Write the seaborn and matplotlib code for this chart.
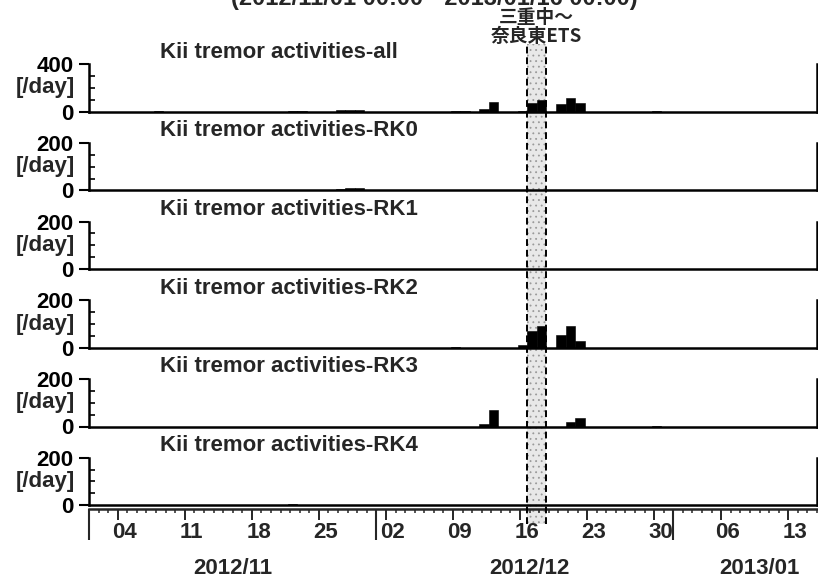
import numpy as np
import pandas as pd
import matplotlib
matplotlib.use("Agg")
import matplotlib.pyplot as plt
import matplotlib.dates as mdates
import matplotlib.transforms as mtransforms
from matplotlib.patches import Rectangle
from matplotlib.ticker import FixedLocator, NullFormatter
from matplotlib import font_manager as fm
import seaborn as sns

# ---------------------------------------------------------------- data
PERIOD = ("2012-11-01", "2013-01-16")
HEADER = "(2012/11/01 00:00 - 2013/01/16 00:00)"

ACTIVE_DAYS = ["2012-11-08", "2012-11-22", "2012-11-23", "2012-11-27",
               "2012-11-28", "2012-11-29", "2012-12-09", "2012-12-10",
               "2012-12-12", "2012-12-13", "2012-12-16", "2012-12-17",
               "2012-12-18", "2012-12-20", "2012-12-21", "2012-12-22",
               "2012-12-30"]
COUNT_ALL = [3, 8, 4, 12, 15, 14, 4, 5, 20, 82, 10, 73, 96, 67, 118, 76, 6]
COUNT_RK0 = [0, 2, 3, 8, 12, 12, 0, 3, 0, 0, 0, 0, 0, 0, 0, 0, 0]
COUNT_RK1 = [2, 0, 0, 0, 0, 0, 0, 0, 0, 0, 0, 0, 0, 0, 0, 0, 0]
COUNT_RK2 = [0, 0, 0, 0, 0, 0, 2, 0, 0, 0, 10, 69, 90, 55, 90, 27, 0]
COUNT_RK3 = [0, 0, 0, 0, 0, 0, 0, 0, 10, 70, 0, 0, 0, 0, 18, 34, 3]
COUNT_RK4 = [0, 3, 0, 0, 0, 0, 0, 0, 0, 0, 0, 0, 0, 0, 0, 0, 0]

PANEL_TITLES = ["Kii tremor activities-all", "Kii tremor activities-RK0",
                "Kii tremor activities-RK1", "Kii tremor activities-RK2",
                "Kii tremor activities-RK3", "Kii tremor activities-RK4"]
PANEL_COUNTS = [COUNT_ALL, COUNT_RK0, COUNT_RK1, COUNT_RK2, COUNT_RK3, COUNT_RK4]
PANEL_YMAX = [400, 200, 200, 200, 200, 200]
Y_UNIT = "[/day]"

ETS_PERIOD = ("2012-12-17", "2012-12-19")
ETS_LABEL = "三重中～\n奈良東ETS"

MONTH_LABELS = ["2012/11", "2012/12", "2013/01"]
MONTH_LABEL_DATES = ["2012-11-16", "2012-12-17", "2013-01-10"]

# ---------------------------------------------------------------- style
sns.set_style("ticks")
installed = {f.name for f in fm.fontManager.ttflist}
LATIN = "Liberation Sans" if "Liberation Sans" in installed else "DejaVu Sans"
plt.rcParams["font.family"] = [LATIN, "Noto Sans CJK JP", "DejaVu Sans"]
plt.rcParams["font.weight"] = "bold"
plt.rcParams["axes.labelweight"] = "bold"
plt.rcParams["hatch.linewidth"] = 0.6

W, H = 818, 585
LEFT_PX, RIGHT_PX = 89, 817
BASE0_PX, STEP_PX, PANEL_PX = 111.7, 78.7, 47.5
TIME_AXIS_PX = 508.5
BIN_SHIFT = -0.25          # daily bins start at 18:00 of the previous day
FS = 16


def fy(px):
    return 1 - px / H


x0, x1 = mdates.date2num(pd.to_datetime(list(PERIOD)))
day_x = mdates.date2num(pd.to_datetime(ACTIVE_DAYS)) + BIN_SHIFT + 0.5

fig = plt.figure(figsize=(W / 100, H / 100), dpi=100)
ax_w = (RIGHT_PX - LEFT_PX) / W

panels = []
for i, (title, counts, ymax) in enumerate(zip(PANEL_TITLES, PANEL_COUNTS, PANEL_YMAX)):
    base = BASE0_PX + STEP_PX * i
    ax = fig.add_axes([LEFT_PX / W, fy(base), ax_w, PANEL_PX / H])
    ax.set_facecolor("none")
    daily = pd.DataFrame({"day": day_x, "count": counts})
    sns.histplot(data=daily, x="day", weights="count", binwidth=1,
                 binrange=(x0 + BIN_SHIFT, x1 + BIN_SHIFT),
                 color="black", alpha=1, edgecolor="black", linewidth=0.4,
                 ax=ax)
    ax.set_xlim(x0, x1)
    ax.set_ylim(0, ymax)
    for side in ("left", "bottom", "right"):
        ax.spines[side].set_visible(True)
        ax.spines[side].set_linewidth(1.8)
        ax.spines[side].set_color("black")
    ax.spines["top"].set_visible(False)
    ax.tick_params(axis="x", bottom=False, labelbottom=False)
    ax.set_xlabel("")
    ax.yaxis.set_major_locator(FixedLocator([0, ymax]))
    ax.yaxis.set_minor_locator(FixedLocator([ymax / 4, ymax / 2, 3 * ymax / 4]))
    ax.set_yticklabels(["0", str(ymax)])
    ax.tick_params(axis="y", which="major", direction="out", length=7,
                   width=1.5, labelsize=FS, pad=4, colors="black")
    ax.tick_params(axis="y", which="minor", direction="in", length=4,
                   width=1.2, colors="black")
    ax.set_ylabel(Y_UNIT, rotation=0, ha="right", va="center", fontsize=FS)
    ax.yaxis.set_label_coords((75 - LEFT_PX) / (RIGHT_PX - LEFT_PX), 0.5)
    ax.text((160 - LEFT_PX) / (RIGHT_PX - LEFT_PX), 1 + 12 / PANEL_PX, title,
            transform=ax.transAxes, ha="left", va="center", fontsize=FS)
    panels.append(ax)

# ---------------------------------------------------------------- time axis
ax_t = fig.add_axes([LEFT_PX / W, fy(TIME_AXIS_PX), ax_w, 0.0005])
ax_t.set_facecolor("none")
for side in ("left", "right", "top"):
    ax_t.spines[side].set_visible(False)
ax_t.spines["bottom"].set_linewidth(1.8)
ax_t.set_xlim(x0, x1)
ax_t.set_yticks([])
ax_t.xaxis.set_major_locator(mdates.WeekdayLocator(byweekday=mdates.SU))
ax_t.xaxis.set_minor_locator(mdates.DayLocator())
ax_t.xaxis.set_major_formatter(NullFormatter())
ax_t.tick_params(axis="x", which="major", direction="out", length=8, width=1.4)
ax_t.tick_params(axis="x", which="minor", direction="out", length=3, width=1.1)

ax_m = fig.add_axes([LEFT_PX / W, fy(TIME_AXIS_PX), ax_w, 0.0005])
ax_m.set_facecolor("none")
for side in ax_m.spines.values():
    side.set_visible(False)
ax_m.set_xlim(x0, x1)
ax_m.set_yticks([])
ax_m.xaxis.set_major_locator(mdates.MonthLocator())
ax_m.xaxis.set_major_formatter(NullFormatter())
ax_m.tick_params(axis="x", which="major", direction="out", length=22, width=1.5)

blend = mtransforms.blended_transform_factory(ax_t.transData, fig.transFigure)
for d in pd.date_range(*PERIOD, freq="W-SUN"):
    ax_t.text(mdates.date2num(d) + 0.7, fy(532), d.strftime("%d"),
              transform=blend, ha="center", va="center", fontsize=FS)
for lab, d in zip(MONTH_LABELS, MONTH_LABEL_DATES):
    ax_t.text(mdates.date2num(pd.Timestamp(d)), fy(569), lab,
              transform=blend, ha="center", va="center", fontsize=FS)

# ---------------------------------------------------------------- ETS band
e0, e1 = mdates.date2num(pd.to_datetime(list(ETS_PERIOD))) + BIN_SHIFT
band = Rectangle((e0, fy(524)), e1 - e0, fy(44) - fy(524), transform=blend,
                 facecolor="#e8e8e8", edgecolor="#9a9a9a", hatch="...",
                 linewidth=0, zorder=-1)
fig.add_artist(band)
for xe in (e0, e1):
    fig.add_artist(plt.Line2D([xe, xe], [fy(524), fy(44)], transform=blend,
                              color="black", lw=1.4, ls=(0, (3.5, 2)), zorder=5))
ax_t.text((e0 + e1) / 2, fy(27), ETS_LABEL, transform=blend, ha="center",
          va="center", fontsize=13.5, linespacing=1.0, multialignment="center",
          family=["Noto Sans CJK JP", "DejaVu Sans"], fontweight="bold")

fig.text(434 / W, fy(5), HEADER, ha="center", va="baseline", fontsize=17)

fig.savefig("out.png", dpi=100)
